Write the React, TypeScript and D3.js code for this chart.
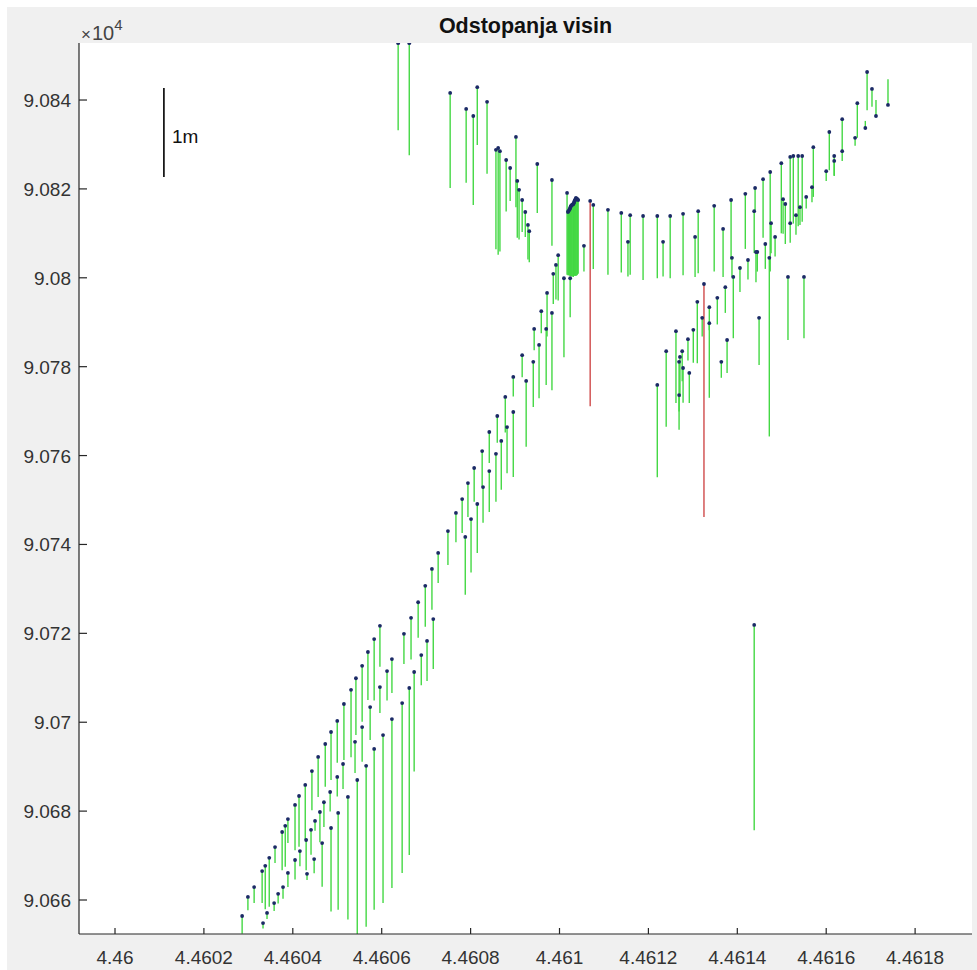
import React from 'react';
import * as d3 from 'd3';

// ---------- axis configuration ----------
const xTicks = [4.46, 4.4602, 4.4604, 4.4606, 4.4608, 4.461, 4.4612, 4.4614, 4.4616, 4.4618];
const yTicks = [9.066, 9.068, 9.07, 9.072, 9.074, 9.076, 9.078, 9.08, 9.082, 9.084];
const xDomain = [4.459919, 4.461928];
const yDomain = [9.065235, 9.085283];
const titleText = 'Odstopanja visin';
const exponentText = '4';

// one metre of height deviation drawn as this many y-axis units
const metresToAxis = 0.002;
// scale bar (1 m)
const scaleBarX = 4.46011;
const scaleBarTop = 9.08427;
const scaleBarMetres = 1;
const scaleBarLabel = '1m';

// ---------- data: [x, y, deviation in metres] ----------
const upperLeftCluster: number[][] = [
  [4.460637, 9.08528, -0.98], [4.460662, 9.08528, -1.26], [4.460754, 9.08416, -1.07],
  [4.46079, 9.0838, -0.83], [4.460806, 9.08364, -1.0], [4.460815, 9.08429, -0.65],
  [4.460837, 9.08396, -0.81], [4.460857, 9.08288, -1.12], [4.460862, 9.08292, -1.2],
  [4.460866, 9.08285, -1.13], [4.460902, 9.08317, -0.79], [4.460905, 9.08218, -0.64],
  [4.46088, 9.08265, -0.58], [4.460889, 9.08247, -0.37], [4.460909, 9.08198, -0.56],
  [4.460916, 9.08175, -0.36], [4.460923, 9.08148, -0.28], [4.460929, 9.08119, -0.39],
  [4.460932, 9.08105, -0.35], [4.46095, 9.08256, -0.55], [4.460983, 9.0822, -0.74],
];

const denseBundle: number[][] = [
  [4.461017, 9.08191, -0.92], [4.461019, 9.08148, -0.71], [4.46102, 9.0815, -0.72],
  [4.461022, 9.08153, -0.74], [4.461023, 9.08155, -0.75], [4.461024, 9.08157, -0.76],
  [4.461025, 9.0816, -0.78], [4.461026, 9.08162, -0.79], [4.461027, 9.08163, -0.8],
  [4.461028, 9.08164, -0.8], [4.46103, 9.08165, -0.81], [4.461031, 9.08166, -0.82],
  [4.461032, 9.08168, -0.82], [4.461033, 9.08171, -0.83], [4.461034, 9.08173, -0.84],
  [4.461035, 9.08175, -0.85], [4.461036, 9.08177, -0.86], [4.461037, 9.0818, -0.88],
  [4.461039, 9.08178, -0.86], [4.46104, 9.08177, -0.85], [4.461042, 9.08175, -0.83],
  [4.461024, 9.07999, -0.44], [4.461055, 9.08072, -0.29], [4.461076, 9.08164, -0.72],
];

const arcPoints: number[][] = [
  [4.461109, 9.08153, -0.73], [4.461139, 9.08146, -0.67], [4.461159, 9.08141, -0.67],
  [4.461154, 9.08081, -0.39], [4.461188, 9.08139, -0.72], [4.46122, 9.08139, -0.7],
  [4.461233, 9.08081, -0.39], [4.461249, 9.08139, -0.7], [4.461278, 9.08144, -0.69],
  [4.461312, 9.0815, -0.7], [4.461305, 9.08092, -0.45], [4.461348, 9.08162, -0.74],
  [4.461386, 9.08175, -0.67], [4.461368, 9.0811, -0.54], [4.461418, 9.08189, -0.62],
  [4.46144, 9.08202, -0.25], [4.461438, 9.0815, -0.47], [4.461445, 9.08058, -0.22],
  [4.461458, 9.08222, -0.66], [4.461474, 9.08238, -1.12], [4.461476, 9.08123, -0.34],
  [4.461472, 9.08045, -2.01], [4.461499, 9.08258, -0.79], [4.461519, 9.08272, -0.73],
  [4.461526, 9.08274, -0.76], [4.461537, 9.08274, -0.79], [4.461546, 9.08274, -0.74],
  [4.461503, 9.08177, -0.39], [4.461508, 9.08166, -0.45], [4.461519, 9.08123, -0.22],
  [4.461532, 9.08141, -0.22], [4.461541, 9.08159, -0.2], [4.461555, 9.08182, -0.13],
  [4.461571, 9.08294, -0.56], [4.461568, 9.08204, -0.17], [4.461607, 9.08328, -0.43],
  [4.4616, 9.0824, -0.11], [4.461618, 9.08274, -0.22], [4.461618, 9.08263, -0.17],
  [4.461636, 9.08357, -0.37], [4.461636, 9.08285, -0.11], [4.46167, 9.08393, -0.39],
  [4.461665, 9.08315, -0.09], [4.461688, 9.08337, 0.08], [4.461692, 9.08463, -0.43],
  [4.461703, 9.08425, -0.2], [4.461712, 9.08364, 0.18], [4.461739, 9.08389, 0.29],
];

const rightCluster: number[][] = [
  [4.46122, 9.07759, -1.04], [4.46124, 9.07835, -0.85], [4.461262, 9.0788, -0.81],
  [4.461271, 9.07822, -0.45], [4.461269, 9.07811, -0.56], [4.461276, 9.07835, -0.34],
  [4.461278, 9.07797, -0.39], [4.461269, 9.07736, -0.39], [4.461289, 9.07862, -0.24],
  [4.461292, 9.07786, -0.34], [4.461301, 9.07883, -0.37], [4.46131, 9.07946, -0.69],
  [4.461321, 9.0791, -0.21], [4.461337, 9.07934, -0.26], [4.461337, 9.07898, -0.84],
  [4.461355, 9.07955, -0.3], [4.461364, 9.07811, -0.18], [4.461373, 9.07979, -0.29],
  [4.461377, 9.0786, -0.37], [4.461388, 9.08045, -0.22], [4.461391, 9.08002, -0.69],
  [4.461406, 9.08022, -0.27], [4.461424, 9.0804, -0.22], [4.461442, 9.08058, -0.34],
  [4.461449, 9.0791, -0.53], [4.461514, 9.08002, -0.71], [4.46155, 9.08002, -0.69],
  [4.461438, 9.07219, -2.31], [4.461463, 9.08076, -0.28], [4.461485, 9.08092, -0.22],
];

const leftStrand: number[][] = [
  [4.460286, 9.06564, -0.2], [4.460299, 9.06607, -0.15], [4.460313, 9.06629, -0.18],
  [4.460331, 9.06665, -0.36], [4.460338, 9.06677, -0.49], [4.460347, 9.06695, -0.55],
  [4.46036, 9.06719, -0.18], [4.460376, 9.06753, -0.43], [4.460383, 9.06767, -0.46],
  [4.460389, 9.06782, -0.27], [4.460405, 9.06814, -0.51], [4.460414, 9.06834, -0.57],
  [4.460428, 9.06859, -0.62], [4.460443, 9.0689, -0.44], [4.460457, 9.06922, -0.45],
  [4.460473, 9.06951, -0.48], [4.460486, 9.06978, -0.54], [4.4605, 9.07003, -0.47],
  [4.460515, 9.07041, -0.63], [4.460531, 9.07073, -0.76], [4.460542, 9.07099, -0.64],
  [4.460556, 9.07127, -0.63], [4.460569, 9.07158, -0.54], [4.460583, 9.07187, -0.69],
  [4.460596, 9.07217, -0.46],
];

const middleStrand: number[][] = [
  [4.460333, 9.06548, -0.06], [4.460342, 9.06571, -0.07], [4.460358, 9.06593, -0.09],
  [4.460367, 9.06614, -0.11], [4.460378, 9.06629, -0.13], [4.460389, 9.06661, -0.16],
  [4.460405, 9.0669, -0.22], [4.460416, 9.0671, -0.17], [4.46043, 9.06735, -0.34],
  [4.460441, 9.06758, -0.28], [4.46045, 9.06778, -0.11], [4.460461, 9.06798, -0.34],
  [4.46047, 9.0682, -0.28], [4.460484, 9.06843, -0.22], [4.4605, 9.06877, -0.22],
  [4.460513, 9.06906, -0.28], [4.46054, 9.06956, -0.35], [4.460556, 9.06989, -0.39],
  [4.460574, 9.07034, -0.37], [4.460596, 9.07079, -0.29], [4.460612, 9.07115, -0.33],
  [4.460623, 9.07142, -0.38], [4.46065, 9.07199, -0.34], [4.460666, 9.07235, -0.47],
  [4.460682, 9.0727, -0.4], [4.460698, 9.07307, -0.46], [4.460713, 9.07345, -0.46],
  [4.460727, 9.07381, -0.34], [4.460749, 9.0743, -0.38], [4.460767, 9.07471, -0.33],
  [4.460781, 9.07502, -0.38], [4.460794, 9.07538, -0.38], [4.460808, 9.07572, -0.38],
  [4.460826, 9.0761, -0.4], [4.460842, 9.07653, -0.35], [4.46086, 9.07689, -0.3],
  [4.460878, 9.07732, -0.4], [4.460896, 9.07777, -0.22], [4.460916, 9.07826, -0.25],
  [4.460943, 9.07885, -0.24], [4.460959, 9.07925, -0.25], [4.460972, 9.07966, -0.49],
  [4.460986, 9.08009, -0.34], [4.460992, 9.08029, -0.39], [4.460997, 9.08051, -0.51],
];

const rightStrand: number[][] = [
  [4.460432, 9.06659, -0.07], [4.460448, 9.06692, -0.16], [4.460466, 9.06728, -0.49],
  [4.460486, 9.06762, -0.94], [4.460502, 9.06796, -1.09], [4.460524, 9.06832, -1.38],
  [4.460545, 9.0687, -1.8], [4.460565, 9.06902, -1.81], [4.460583, 9.0694, -1.81],
  [4.460603, 9.06971, -1.89], [4.460623, 9.07007, -1.9], [4.460646, 9.07043, -1.91],
  [4.460662, 9.07077, -1.88], [4.460673, 9.07113, -1.12], [4.460689, 9.07151, -0.34],
  [4.460702, 9.07183, -0.45], [4.460716, 9.07232, -0.56], [4.460788, 9.07417, -0.65],
  [4.460801, 9.07457, -0.6], [4.460815, 9.07491, -0.55], [4.460828, 9.07529, -0.4],
  [4.460842, 9.07565, -0.46], [4.460857, 9.07604, -0.54], [4.460869, 9.07633, -0.55],
  [4.460882, 9.07664, -0.52], [4.460896, 9.07698, -0.73], [4.460925, 9.07768, -0.74],
  [4.460941, 9.07811, -0.51], [4.460954, 9.07849, -0.6], [4.46097, 9.07885, -0.63],
  [4.460983, 9.07921, -0.87], [4.46101, 9.07999, -0.89],
];

// points flagged as outliers (drawn red)
const flaggedPoints: number[][] = [
  [4.461069, 9.08173, -2.31],
  [4.461325, 9.07986, -2.62],
];

const acceptedPoints = [
  ...upperLeftCluster, ...denseBundle, ...arcPoints, ...rightCluster,
  ...leftStrand, ...middleStrand, ...rightStrand,
];

function fmt(v: number) {
  return String(+v.toFixed(4));
}

export default function App() {
  const W = 977, H = 970;
  const left = 79, right = 972, top = 43, bottom = 934;
  const x = d3.scaleLinear().domain(xDomain).range([left, right]);
  const y = d3.scaleLinear().domain(yDomain).range([bottom, top]);
  const font = "'Liberation Sans', Arial, Helvetica, sans-serif";
  const axisColor = '#262626';
  const green = '#44d844';
  const red = '#cf4a4a';
  const markerColor = '#1b2a66';

  const stem = (p: number[], color: string, key: string) => (
    <line key={key} x1={x(p[0])} x2={x(p[0])} y1={y(p[1])} y2={y(p[1] + p[2] * metresToAxis)}
      stroke={color} strokeWidth={1.4} />
  );
  const dot = (p: number[], key: string) => (
    <circle key={key} cx={x(p[0])} cy={y(p[1])} r={1.9} fill={markerColor} />
  );

  const barTopPx = y(scaleBarTop);
  const barBottomPx = y(scaleBarTop - scaleBarMetres * metresToAxis);

  return (
    <div style={{ position: 'absolute', left: 0, top: 0, width: W, height: H, background: '#fff' }}>
      <svg width={W} height={H} viewBox={`0 0 ${W} ${H}`} style={{ display: 'block' }}>
        <defs>
          <clipPath id="plotClip">
            <rect x={left} y={top} width={right - left} height={bottom - top} />
          </clipPath>
        </defs>
        <rect x={0} y={0} width={W} height={H} fill="#ffffff" />
        <rect x={7} y={7} width={W - 7} height={H - 7} fill="#f0f0f0" />
        <rect x={left} y={top} width={right - left} height={bottom - top} fill="#ffffff" />

        <g clipPath="url(#plotClip)">
          {acceptedPoints.map((p, i) => stem(p, green, 'g' + i))}
          {flaggedPoints.map((p, i) => stem(p, red, 'r' + i))}
          {acceptedPoints.map((p, i) => dot(p, 'd' + i))}
          {flaggedPoints.map((p, i) => dot(p, 'rd' + i))}
          {/* scale bar */}
          <line x1={x(scaleBarX)} x2={x(scaleBarX)} y1={barTopPx} y2={barBottomPx}
            stroke="#000" strokeWidth={1.6} />
          <text x={x(scaleBarX) + 8} y={(barTopPx + barBottomPx) / 2 + 11}
            fontFamily={font} fontSize={19} fill="#111">{scaleBarLabel}</text>
        </g>

        {/* axes */}
        <line x1={left} x2={left} y1={top} y2={bottom} stroke={axisColor} strokeWidth={1.2} />
        <line x1={left} x2={right} y1={bottom} y2={bottom} stroke={axisColor} strokeWidth={1.2} />
        {yTicks.map((t) => (
          <g key={'yt' + t}>
            <line x1={left} x2={left + 8} y1={y(t)} y2={y(t)} stroke={axisColor} strokeWidth={1.2} />
            <text x={left - 8} y={y(t) + 7} textAnchor="end" fontFamily={font} fontSize={19} fill="#333">{fmt(t)}</text>
          </g>
        ))}
        {xTicks.map((t) => (
          <g key={'xt' + t}>
            <line x1={x(t)} x2={x(t)} y1={bottom} y2={bottom - 6} stroke={axisColor} strokeWidth={1.2} />
            <text x={x(t)} y={bottom + 30} textAnchor="middle" fontFamily={font} fontSize={19} fill="#333">{fmt(t)}</text>
          </g>
        ))}
        {/* exponent */}
        <text x={81} y={40} fontFamily={font} fontSize={20} fill="#444">
          <tspan fontSize={17}>×</tspan><tspan dx={1}>10</tspan><tspan dy={-10} fontSize={15}>{exponentText}</tspan>
        </text>
        {/* title */}
        <text x={(left + right) / 2} y={33} textAnchor="middle" fontFamily={font} fontSize={21.5}
          fontWeight="bold" fill="#111">{titleText}</text>
      </svg>
    </div>
  );
}
